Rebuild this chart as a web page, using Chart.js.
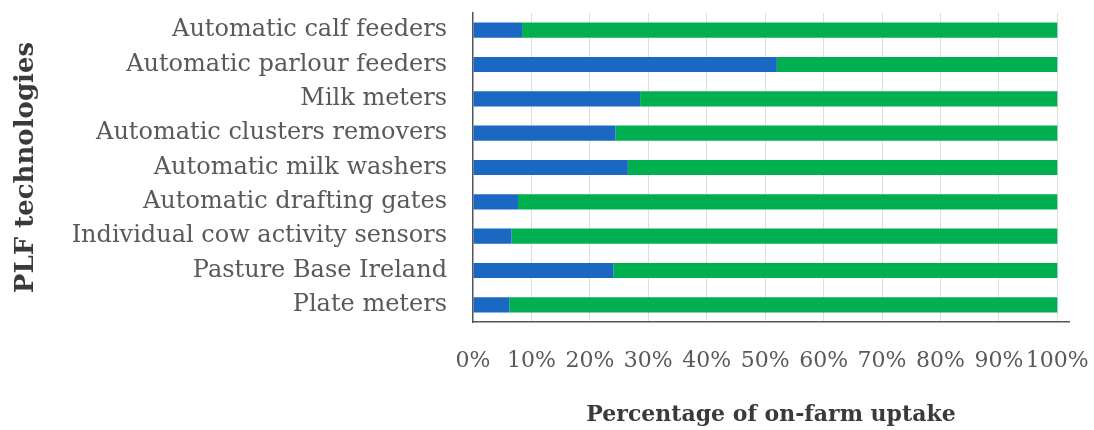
<!DOCTYPE html>
<html>
<head>
<meta charset="utf-8">
<script src="https://cdn.jsdelivr.net/npm/chart.js@4/dist/chart.umd.min.js"></script>
<style>
  html, body { margin: 0; padding: 0; background: #fff; }
  #wrap { width: 1094px; height: 430px; }
</style>
</head>
<body>
<div id="wrap"><canvas id="chart" width="1094" height="430"></canvas></div>
<script>
// PLF technologies, top to bottom as in the figure
const technologies = [
  "Automatic calf feeders",
  "Automatic parlour feeders",
  "Milk meters",
  "Automatic clusters removers",
  "Automatic milk washers",
  "Automatic drafting gates",
  "Individual cow activity sensors",
  "Pasture Base Ireland",
  "Plate meters"
];
// share of farms using (blue) vs not using (green), in %
const uptakeYes = [8.4, 52.0, 28.6, 24.4, 26.5, 7.7, 6.6, 24.0, 6.2];
const uptakeNo = [91.6, 48.0, 71.4, 75.6, 73.5, 92.3, 93.4, 76.0, 93.8];
const xTicks = [0, 10, 20, 30, 40, 50, 60, 70, 80, 90, 100];

const serif = "'DejaVu Serif', 'Liberation Serif', serif";
const textGrey = "#595959";

new Chart(document.getElementById("chart"), {
  type: "bar",
  data: {
    labels: technologies,
    datasets: [
      { label: "Yes", data: uptakeYes, backgroundColor: "#1a68c2", barPercentage: 0.44, categoryPercentage: 1 },
      { label: "No", data: uptakeNo, backgroundColor: "#00b050", barPercentage: 0.44, categoryPercentage: 1 }
    ]
  },
  options: {
    indexAxis: "y",
    responsive: false,
    animation: false,
    layout: { padding: { top: 13, right: 25, left: 0, bottom: 0 } },
    plugins: { legend: { display: false }, tooltip: { enabled: false } },
    scales: {
      x: {
        stacked: true,
        min: 0,
        max: 102,
        afterBuildTicks: (scale) => { scale.ticks = xTicks.map(v => ({ value: v })); },
        afterFit: (scale) => {
          scale.height = 108;
          scale.paddingLeft = 0;
          scale.paddingRight = 0;
        },
        grid: {
          color: (ctx) => ctx.tick && ctx.tick.value === 0 ? "rgba(0,0,0,0)" : "#dedede",
          lineWidth: 1,
          drawTicks: false
        },
        border: { display: true, color: "#555", width: 1.5 },
        ticks: {
          padding: 26,
          maxRotation: 0,
          minRotation: 0,
          autoSkip: false,
          color: textGrey,
          font: { family: serif, size: 22 },
          callback: (v) => v + "%"
        },
        title: {
          display: true,
          text: "Percentage of on-farm uptake",
          color: "#3a3a3a",
          font: { family: serif, size: 22, weight: "bold" },
          padding: { top: 0, bottom: 2 }
        }
      },
      y: {
        stacked: true,
        afterFit: (scale) => {
          scale.width = 473;
          scale.paddingTop = 0;
          scale.paddingBottom = 0;
        },
        grid: { display: false, drawTicks: false },
        border: { display: true, color: "#555", width: 1.5 },
        ticks: {
          padding: 26,
          color: textGrey,
          font: { family: serif, size: 24 }
        },
        title: {
          display: true,
          text: "PLF technologies",
          color: "#3a3a3a",
          font: { family: serif, size: 26, weight: "bold" },
          padding: { top: 11, bottom: 0 }
        }
      }
    }
  }
});
</script>
</body>
</html>
